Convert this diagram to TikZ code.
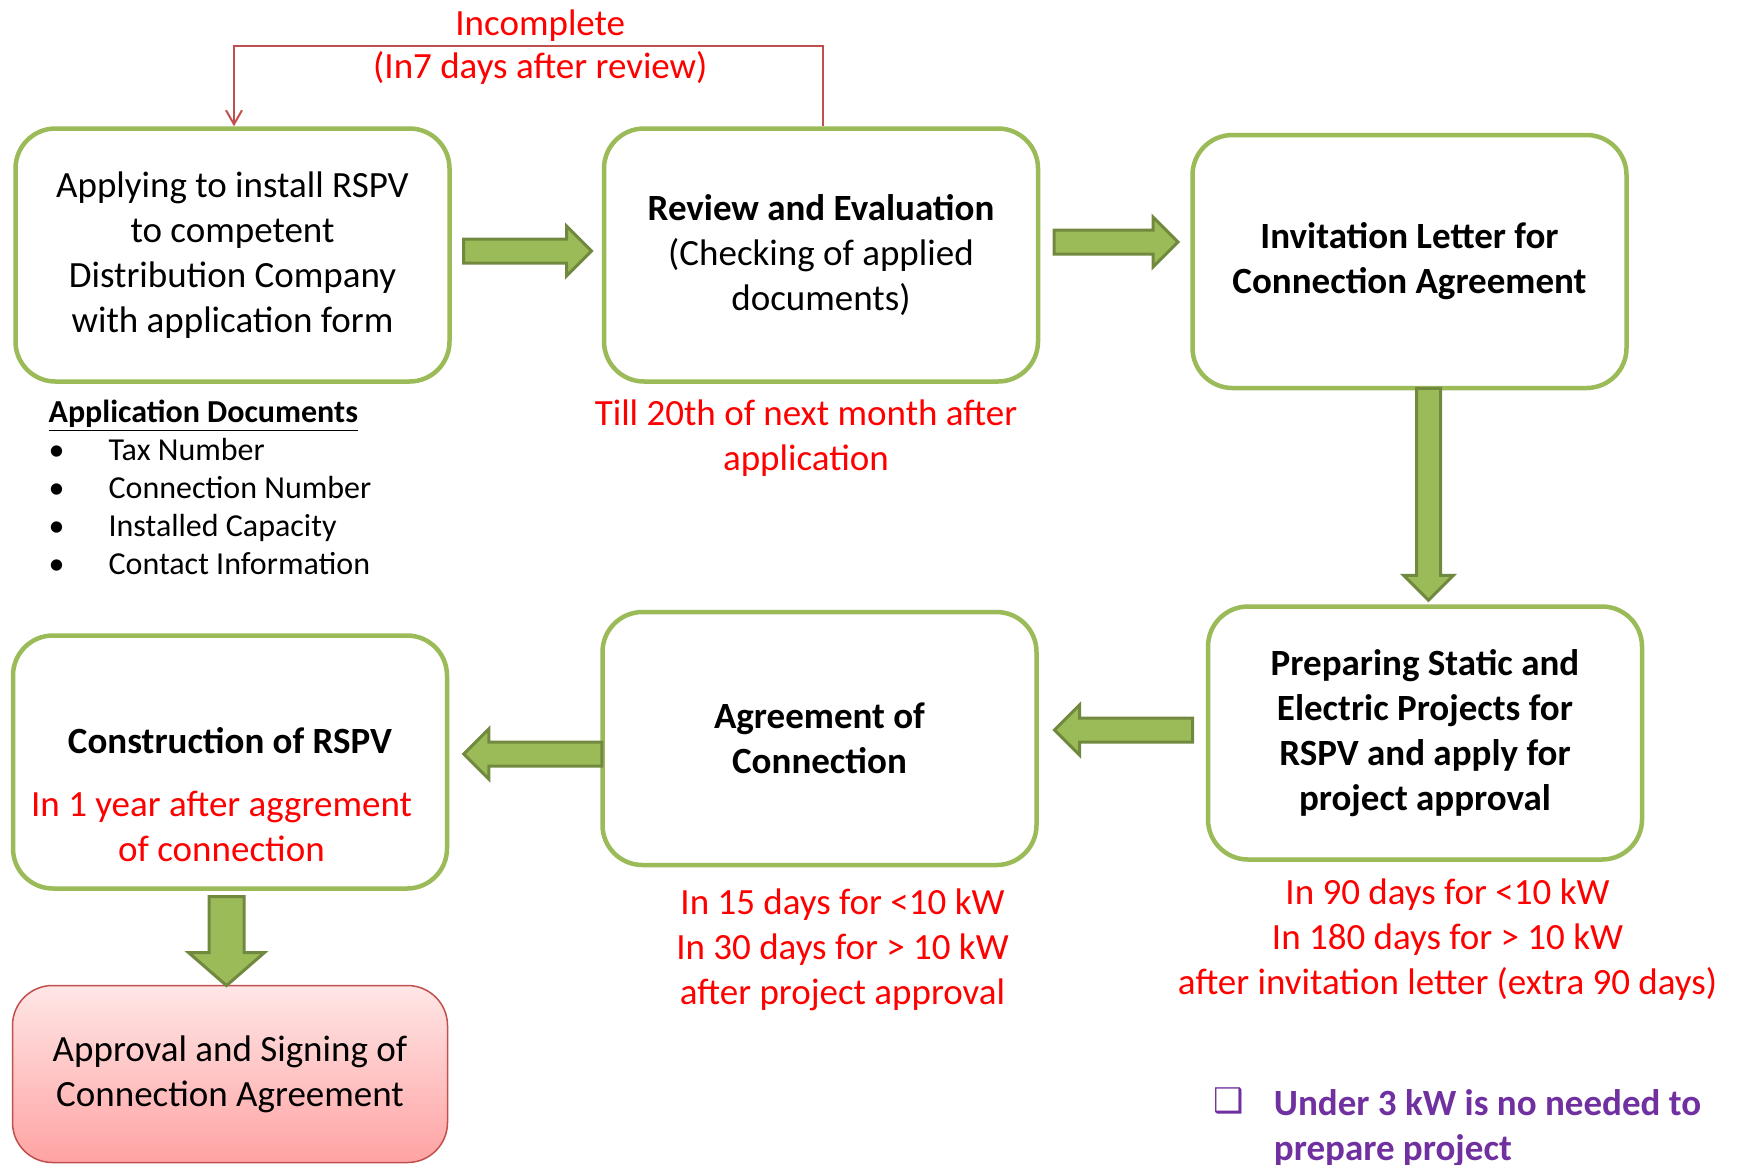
\documentclass[tikz,border=0pt]{standalone}
\usepackage{fontspec}
\setmainfont{Carlito}
\newfontfamily\symbolfont{DejaVu Sans}
\usepackage{tikz}
\usetikzlibrary{shapes.arrows, arrows.meta, positioning}

\definecolor{boxgreen}{HTML}{9BBB59}
\definecolor{arrowdark}{HTML}{71893F}
\definecolor{loopred}{HTML}{C0504D}
\definecolor{notered}{HTML}{FF0000}
\definecolor{notepurple}{HTML}{7030A0}
\definecolor{pinktop}{HTML}{FFE6E6}
\definecolor{pinkbot}{HTML}{FFA3A3}

\newcommand{\boxfont}{\fontsize{18.5}{22.5}\selectfont}
\newcommand{\listfont}{\fontsize{16}{19}\selectfont}

\begin{document}
\begin{tikzpicture}[
  x=0.5pt, y=-0.5pt,
  stepbox/.style={rectangle, draw=boxgreen, line width=2.25pt, fill=white,
                  rounded corners=20pt, minimum width=217pt, minimum height=126.5pt,
                  font=\boxfont, align=center},
  finalbox/.style={rectangle, draw=loopred, line width=0.75pt,
                   top color=pinktop, bottom color=pinkbot, rounded corners=20pt,
                   minimum width=217.5pt, minimum height=88.5pt,
                   font=\boxfont, align=center},
  blockarrow/.style={single arrow, draw=arrowdark, fill=boxgreen, line width=1.5pt,
                     inner xsep=0pt, inner ysep=5.25pt, outer sep=0pt,
                     single arrow head extend=6.5pt, single arrow tip angle=90},
  downarrow/.style={blockarrow, inner xsep=5.25pt, inner ysep=0pt, shape border rotate=270},
  rednote/.style={font=\boxfont, text=notered, align=center, inner sep=0pt},
  boldnote/.style={font=\boxfont\bfseries, align=center, inner sep=0pt},
  backline/.style={draw=loopred, line width=1pt, -{Straight Barb[length=7pt, width=8pt]}},
]
  \useasboundingbox (0,0) rectangle (1739,1164);

  % process boxes
  \node[stepbox] (app) at (232.5,255) {Applying to install RSPV\\to competent\\Distribution Company\\with application form};
  \node[stepbox, right=75pt of app] (rev) {\textbf{Review and Evaluation}\\(Checking of applied\\documents)};
  \node[stepbox, right=75pt of rev, yshift=-3.25pt] (inv) {\textbf{Invitation Letter for}\\\textbf{Connection Agreement}};
  \node[stepbox, below=107pt of inv, xshift=7.75pt] (prep) {\textbf{Preparing Static and}\\\textbf{Electric Projects  for}\\\textbf{RSPV and apply for}\\\textbf{project approval}};
  \node[stepbox, left=83.5pt of prep, yshift=-2.75pt] (agr) {\textbf{Agreement of}\\\textbf{Connection}};
  \node[stepbox, left=75.5pt of agr, yshift=-11.75pt] (cons) {};
  \node[finalbox, below=47pt of cons] (appr) {Approval and Signing of\\Connection Agreement};

  % texts inside and under the boxes
  \node[boldnote, anchor=north] (constitle) at ([yshift=-46.75pt]cons.north) {Construction of RSPV};
  \node[rednote, anchor=north] (consnote) at ([xshift=-4.25pt, yshift=-78.6pt]cons.north) {In 1 year after aggrement\\of connection};
  \node[rednote, anchor=north] (revnote) at ([xshift=-7.5pt, yshift=-7.9pt]rev.south) {Till 20th of next month after\\application};
  \node[rednote, anchor=north] (agrnote) at ([xshift=11.5pt, yshift=-10.6pt]agr.south) {In 15 days for <10 kW\\In 30 days for > 10 kW\\after project approval};
  \node[rednote, anchor=north] (prepnote) at ([xshift=11.25pt, yshift=-8.4pt]prep.south) {In 90 days for <10 kW\\In 180 days for > 10 kW\\after invitation letter (extra 90 days)};

  % application documents
  \node[font=\listfont, align=left, inner sep=0pt, anchor=north west] (docs)
    at ([xshift=17.5pt, yshift=-7.9pt]app.south west)
    {\underline{\textbf{Application Documents}}\\
     \makebox[30pt][l]{\textbullet}Tax Number\\
     \makebox[30pt][l]{\textbullet}Connection Number\\
     \makebox[30pt][l]{\textbullet}Installed Capacity\\
     \makebox[30pt][l]{\textbullet}Contact Information};

  % note
  \node[font=\boxfont\bfseries, text=notepurple, align=left, inner sep=0pt, anchor=north west] (undernote)
    at ([xshift=33.9pt, yshift=-113.9pt]prep.south west) {Under 3 kW is no needed to\\prepare project};
  \node[font=\symbolfont\fontsize{17}{17}\selectfont, text=notepurple, inner sep=0pt] (notebox)
    at ([xshift=-22.5pt, yshift=-5.75pt]undernote.north west) {❑};

  % green block arrows
  \node[blockarrow, anchor=tail, minimum height=64pt] (a1) at ([xshift=5.9pt, yshift=2pt]app.east) {};
  \node[blockarrow, anchor=tail, minimum height=62pt] (a2) at ([xshift=6.9pt, yshift=6.5pt]rev.east) {};
  \node[downarrow, anchor=tail, minimum height=106pt] (a3) at ([xshift=9.5pt, yshift=1pt]inv.south) {};
  \node[blockarrow, anchor=tail, minimum height=69pt, shape border rotate=180] (a4) at ([xshift=-6.6pt, yshift=1.5pt]prep.west) {};
  \node[blockarrow, anchor=tail, minimum height=69pt, shape border rotate=180] (a5) at ([xshift=0.75pt, yshift=-7.75pt]agr.west) {};
  \node[downarrow, anchor=tail, minimum height=44.5pt, inner xsep=8pt, single arrow head extend=10.25pt,
        single arrow tip angle=98] (a6) at ([xshift=-1.75pt, yshift=-2.9pt]cons.south) {};

  % loop back when incomplete
  \draw[backline] ([xshift=1pt]rev.north) |- node[pos=0.74, above, rednote, inner sep=2pt] {Incomplete}
    node[pos=0.74, below, rednote, inner sep=2pt] {(In7 days after review)}
    ([xshift=0.75pt, yshift=40pt]app.north) -- ([xshift=0.75pt]app.north);
\end{tikzpicture}
\end{document}
